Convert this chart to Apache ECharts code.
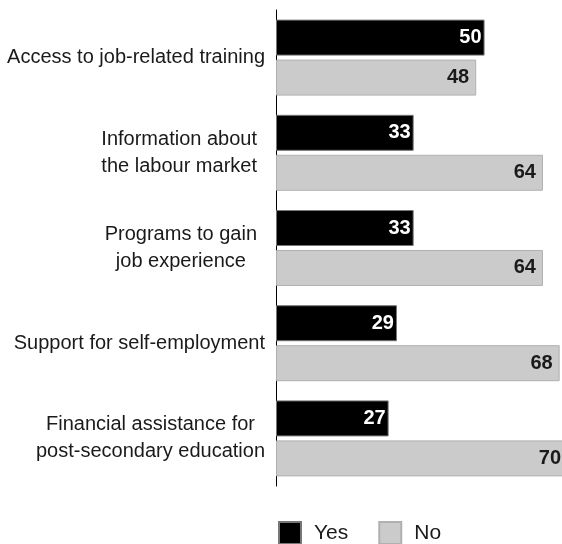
<!DOCTYPE html>
<html>
<head>
<meta charset="utf-8">
<script src="https://cdn.jsdelivr.net/npm/echarts@6/dist/echarts.min.js"></script>
<style>
  html, body { margin: 0; padding: 0; background: #ffffff; }
  #chart { width: 562px; height: 544px; }
</style>
</head>
<body>
<div id="chart"></div>
<script>
// Support programs: share answering Yes / No (%)
const categories = [
  'Access to job-related training',
  'Information about\nthe labour market',
  'Programs to gain\njob experience',
  'Support for self-employment',
  'Financial assistance for\npost-secondary education'
];
const yesValues = [50, 33, 33, 29, 27];
const noValues = [48, 64, 64, 68, 70];
const seriesNames = ['Yes', 'No'];

const FONT = '"Liberation Sans Narrow", "Arial Narrow", "Liberation Sans", sans-serif';

const chart = echarts.init(document.getElementById('chart'), null, { renderer: 'canvas' });

// two-line labels sit a little further from the axis
function labelStyle(idx, nLines) {
  return nLines > 1 && idx !== 4 ? 'm' : 'c';
}

chart.setOption({
  animation: false,
  backgroundColor: '#ffffff',
  grid: {
    left: 276, top: 10, width: 292, height: 476,
    containLabel: false,
    outerBoundsMode: 'none'
  },
  xAxis: {
    type: 'value',
    min: 0,
    max: 70,
    show: false
  },
  yAxis: {
    type: 'category',
    data: categories,
    inverse: true,
    axisLine: { show: true, lineStyle: { color: '#000000', width: 1 } },
    axisTick: { show: false },
    axisLabel: {
      margin: 11,
      align: 'right',
      formatter: function (v, idx) {
        const lines = v.split('\n');
        const s = labelStyle(idx, lines.length);
        return lines.map(function (l) { return '{' + s + '|' + l + '}'; }).join('\n');
      },
      rich: {
        c: {
          align: 'center',
          fontFamily: FONT,
          fontSize: 20,
          lineHeight: 27,
          color: '#1a1a1a'
        },
        m: {
          align: 'center',
          fontFamily: FONT,
          fontSize: 20,
          lineHeight: 27,
          color: '#1a1a1a',
          padding: [0, 8, 0, 0]
        }
      }
    }
  },
  legend: {
    left: 273,
    top: 516,
    itemWidth: 22,
    itemHeight: 22,
    itemGap: 30,
    icon: 'rect',
    data: seriesNames,
    textStyle: {
      fontFamily: FONT,
      fontSize: 21,
      color: '#1a1a1a',
      padding: [0, 0, 0, 8]
    }
  },
  series: [
    {
      name: seriesNames[0],
      type: 'bar',
      data: yesValues,
      barWidth: 36,
      barGap: '11%',
      itemStyle: { color: '#000000', borderColor: '#777777', borderWidth: 1 },
      label: {
        show: true,
        position: 'insideRight',
        distance: 3,
        fontFamily: FONT,
        fontWeight: 'bold',
        fontSize: 20,
        color: '#ffffff'
      }
    },
    {
      name: seriesNames[1],
      type: 'bar',
      data: noValues,
      barWidth: 36,
      itemStyle: { color: '#cbcbcb', borderColor: '#b0b0b0', borderWidth: 1 },
      label: {
        show: true,
        position: 'insideRight',
        distance: 7,
        fontFamily: FONT,
        fontWeight: 'bold',
        fontSize: 20,
        color: '#1a1a1a'
      }
    }
  ]
});
</script>
</body>
</html>
